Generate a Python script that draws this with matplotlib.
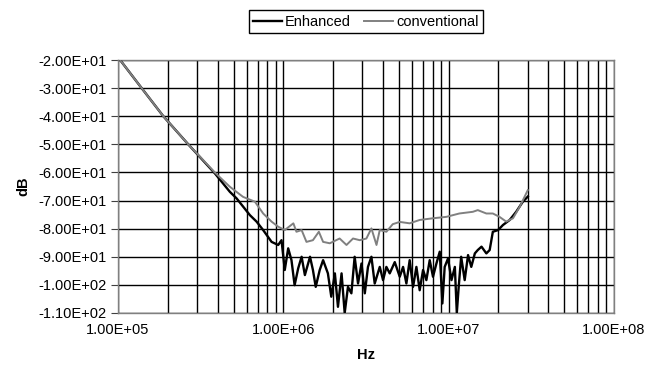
import numpy as np
import matplotlib
matplotlib.use('Agg')
import matplotlib.pyplot as plt
from matplotlib.ticker import LogLocator, FuncFormatter, MultipleLocator, NullFormatter

plt.rcParams['font.family'] = ['Liberation Sans', 'DejaVu Sans']

# 数据 (Hz, dB) - 从图中读取
enh_hz = [1.03e5, 1.39e5, 1.88e5, 2.66e5, 3.85e5, 4.75e5, 5.21e5, 6.28e5, 6.89e5, 7.55e5,
          8.49e5, 9.31e5, 9.75e5, 1.02e6, 1.07e6, 1.12e6, 1.17e6, 1.23e6, 1.29e6, 1.35e6,
          1.45e6, 1.51e6, 1.57e6, 1.66e6, 1.74e6, 1.86e6, 1.95e6, 2.05e6, 2.14e6, 2.25e6,
          2.35e6, 2.46e6, 2.58e6, 2.70e6, 2.83e6, 2.97e6, 3.11e6, 3.25e6, 3.41e6, 3.57e6,
          3.83e6, 4.01e6, 4.20e6, 4.40e6, 4.72e6, 5.06e6, 5.30e6, 5.55e6, 5.81e6, 6.09e6,
          6.38e6, 6.68e6, 7.00e6, 7.33e6, 7.68e6, 8.04e6, 8.43e6, 8.83e6, 9.16e6, 9.46e6,
          9.91e6, 1.04e7, 1.09e7, 1.12e7, 1.15e7, 1.19e7, 1.25e7, 1.31e7, 1.37e7, 1.44e7,
          1.50e7, 1.58e7, 1.69e7, 1.77e7, 1.85e7, 1.99e7, 2.13e7, 2.34e7, 2.56e7, 2.81e7,
          3.01e7]
enh_db = [-20.0, -30.0, -40.0, -50.0, -60.3, -66.9, -69.2, -75.2, -77.5, -80.5,
          -84.7, -85.8, -84.1, -94.7, -87.0, -91.2, -100.1, -94.1, -90.0, -96.5,
          -90.0, -94.7, -100.7, -94.7, -91.2, -95.9, -104.2, -95.9, -107.8, -95.9,
          -110.0, -100.7, -103.0, -90.0, -99.5, -92.4, -103.0, -93.6, -90.0, -99.5,
          -93.6, -98.3, -93.6, -95.9, -91.9, -97.1, -93.6, -99.5, -91.2, -100.7,
          -93.6, -101.9, -94.7, -98.3, -91.2, -97.1, -92.4, -88.2, -106.6, -93.6,
          -90.6, -98.3, -93.6, -110.0, -100.7, -90.0, -98.3, -89.4, -93.6, -88.8,
          -87.6, -86.4, -88.8, -87.6, -81.1, -80.5, -78.7, -76.9, -74.0, -70.4,
          -68.6]

conv_hz = [1.03e5, 1.39e5, 1.88e5, 2.66e5, 3.85e5, 4.75e5, 5.71e5, 6.73e5, 7.55e5, 8.49e5,
           9.31e5, 1.02e6, 1.15e6, 1.20e6, 1.29e6, 1.38e6, 1.51e6, 1.64e6, 1.74e6, 1.91e6,
           2.19e6, 2.41e6, 2.64e6, 2.90e6, 3.18e6, 3.41e6, 3.66e6, 3.83e6, 4.20e6, 4.59e6,
           5.06e6, 5.81e6, 6.68e6, 8.04e6, 9.68e6, 1.16e7, 1.40e7, 1.50e7, 1.69e7, 1.85e7,
           2.03e7, 2.23e7, 2.45e7, 2.69e7, 3.01e7]
conv_db = [-20.0, -30.0, -40.0, -50.0, -60.0, -65.1, -68.7, -70.4, -74.6, -77.5,
           -79.3, -80.5, -78.1, -81.1, -80.5, -84.7, -84.1, -81.1, -84.7, -85.2,
           -83.5, -85.8, -83.5, -84.1, -83.5, -79.9, -85.8, -80.5, -81.1, -78.4,
           -77.6, -78.1, -76.9, -76.3, -75.8, -74.6, -74.0, -73.4, -74.6, -74.6,
           -75.8, -77.5, -76.3, -72.2, -66.3]

fig = plt.figure(figsize=(6.49, 3.77), dpi=100)
ax = fig.add_axes([118 / 649, 1 - 313 / 377, 496 / 649, 253 / 377])

ax.plot(enh_hz, enh_db, color='black', lw=1.7, label='Enhanced', zorder=3)
ax.plot(conv_hz, conv_db, color='#808080', lw=1.4, label='conventional', zorder=4)

ax.set_xscale('log')
ax.set_xlim(1e5, 1e8)
ax.set_ylim(-110, -20)
ax.yaxis.set_major_locator(MultipleLocator(10))
ax.xaxis.set_major_locator(LogLocator(base=10, numticks=10))
ax.xaxis.set_minor_locator(LogLocator(base=10, subs=np.arange(2, 10), numticks=20))
ax.xaxis.set_minor_formatter(NullFormatter())

# Excel 风格的刻度标签
def sci(v, pos):
    return f'{v:.2E}'
ax.xaxis.set_major_formatter(FuncFormatter(sci))
ax.yaxis.set_major_formatter(FuncFormatter(sci))

ax.grid(True, which='major', axis='both', color='black', lw=1.0)
ax.grid(True, which='minor', axis='x', color='black', lw=1.0)
for s in ax.spines.values():
    s.set_color('#808080')
    s.set_linewidth(1.0)
ax.tick_params(axis='y', which='major', length=5, color='#404040', labelsize=10.5, pad=3)
ax.tick_params(axis='x', which='both', length=0, labelsize=10.5, pad=7)

ax.set_xlabel('Hz', fontsize=10.5, fontweight='bold', labelpad=8)
ax.set_ylabel('dB', fontsize=10.5, fontweight='bold', labelpad=6)

fig.legend(loc='upper center', bbox_to_anchor=(366 / 649, 1 - 3 / 377), ncol=2,
           frameon=True, fancybox=False, edgecolor='black', framealpha=1,
           fontsize=10.5, handlelength=2.0, handletextpad=0.2, columnspacing=0.9,
           borderpad=0.3)

plt.savefig('out.png', dpi=100)
